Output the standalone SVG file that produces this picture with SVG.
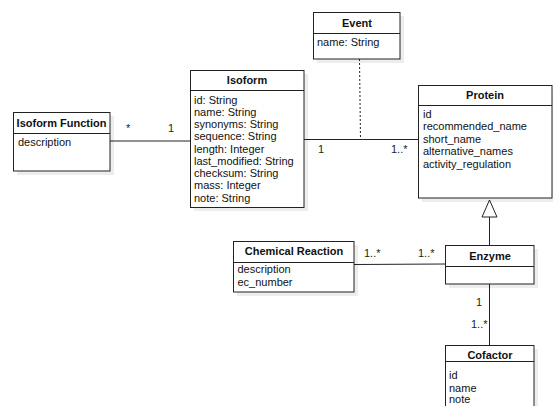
<svg xmlns="http://www.w3.org/2000/svg" width="553" height="406" viewBox="0 0 553 406">
  <style>
    .box { fill: #ffffff; stroke: #222; stroke-width: 1; }
    .shadow { fill: #000; opacity: 0.07; }
    .sep { stroke: #222; stroke-width: 1; }
    .title { font-family: "Liberation Sans", Arial, sans-serif; font-size: 11px; font-weight: bold; fill: #111; text-anchor: middle; }
    .attr { font-family: "Liberation Sans", Arial, sans-serif; font-size: 11px; fill: #111; }
    .lbl { font-family: "Liberation Sans", Arial, sans-serif; font-size: 11px; fill: #222; }
    .edge { stroke: #222; stroke-width: 1; fill: none; }
  </style>
  <rect width="553" height="406" fill="#ffffff"/>

  <!-- connectors -->
  <g id="connectors">
    <line class="edge" x1="110" y1="141" x2="190" y2="141"/>
    <line class="edge" x1="304" y1="139.5" x2="418" y2="139.5"/>
    <line class="edge" x1="359.5" y1="59" x2="360.5" y2="139.5" stroke-dasharray="2,2"/>
    <line class="edge" x1="354" y1="264.5" x2="445" y2="264"/>
    <line class="edge" x1="489.5" y1="217" x2="489.5" y2="245"/>
    <polygon points="489.5,200 482,217 497,217" fill="#ffffff" stroke="#222" stroke-width="1"/>
    <line class="edge" x1="489.5" y1="284" x2="489.5" y2="345"/>
    <text class="lbl" x="126" y="132">*</text>
    <text class="lbl" x="168" y="132">1</text>
    <text class="lbl" x="318" y="153">1</text>
    <text class="lbl" x="391" y="153">1..*</text>
    <text class="lbl" x="364" y="257">1..*</text>
    <text class="lbl" x="418" y="257">1..*</text>
    <text class="lbl" x="476" y="306">1</text>
    <text class="lbl" x="471" y="328">1..*</text>
  </g>

  <g id="isoform-function">
    <rect class="shadow" x="17" y="116" width="97" height="59"/>
    <rect class="box" x="13.5" y="112.5" width="96.5" height="58.5"/>
    <line class="sep" x1="13.5" y1="133.5" x2="110" y2="133.5"/>
    <text class="title" x="61.5" y="127">Isoform Function</text>
    <text class="attr" x="18" y="145.5">description</text>
  </g>

  <g id="isoform">
    <rect class="shadow" x="194" y="74" width="114" height="137"/>
    <rect class="box" x="190.5" y="70.5" width="113.5" height="137"/>
    <line class="sep" x1="190.5" y1="90.5" x2="304" y2="90.5"/>
    <text class="title" x="247" y="84">Isoform</text>
    <text class="attr" x="194" y="103.5">id: String</text>
    <text class="attr" x="194" y="115.75">name: String</text>
    <text class="attr" x="194" y="128">synonyms: String</text>
    <text class="attr" x="194" y="140.25">sequence: String</text>
    <text class="attr" x="194" y="152.5">length: Integer</text>
    <text class="attr" x="194" y="164.75">last_modified: String</text>
    <text class="attr" x="194" y="177">checksum: String</text>
    <text class="attr" x="194" y="189.25">mass: Integer</text>
    <text class="attr" x="194" y="201.5">note: String</text>
  </g>

  <g id="event">
    <rect class="shadow" x="317" y="16" width="87" height="47"/>
    <rect class="box" x="313.5" y="12.5" width="86.5" height="46.5"/>
    <line class="sep" x1="313.5" y1="33.5" x2="400" y2="33.5"/>
    <text class="title" x="357" y="27">Event</text>
    <text class="attr" x="317" y="45.5">name: String</text>
  </g>

  <g id="protein">
    <rect class="shadow" x="422" y="89" width="134" height="113"/>
    <rect class="box" x="418.5" y="85.5" width="133.5" height="112.5"/>
    <line class="sep" x1="418.5" y1="105.5" x2="552" y2="105.5"/>
    <text class="title" x="485" y="99">Protein</text>
    <text class="attr" x="423" y="117.5">id</text>
    <text class="attr" x="423" y="130">recommended_name</text>
    <text class="attr" x="423" y="142.5">short_name</text>
    <text class="attr" x="423" y="155">alternative_names</text>
    <text class="attr" x="423" y="167.5">activity_regulation</text>
  </g>

  <g id="chemical-reaction">
    <rect class="shadow" x="237" y="245" width="121" height="51"/>
    <rect class="box" x="233.5" y="241.5" width="120.5" height="50.5"/>
    <line class="sep" x1="233.5" y1="262.5" x2="354" y2="262.5"/>
    <text class="title" x="294" y="255">Chemical Reaction</text>
    <text class="attr" x="237.5" y="273">description</text>
    <text class="attr" x="237.5" y="286">ec_number</text>
  </g>

  <g id="enzyme">
    <rect class="shadow" x="449" y="249" width="89" height="39"/>
    <rect class="box" x="445.5" y="245.5" width="88.5" height="38.5"/>
    <line class="sep" x1="445.5" y1="266.5" x2="534" y2="266.5"/>
    <text class="title" x="490" y="260">Enzyme</text>
  </g>

  <g id="cofactor">
    <rect class="shadow" x="449" y="349" width="89" height="70"/>
    <rect class="box" x="445.5" y="345.5" width="88.5" height="70"/>
    <line class="sep" x1="445.5" y1="361.5" x2="534" y2="361.5"/>
    <text class="title" x="490" y="359">Cofactor</text>
    <text class="attr" x="449" y="379">id</text>
    <text class="attr" x="449" y="391.5">name</text>
    <text class="attr" x="449" y="403">note</text>
  </g>
</svg>
